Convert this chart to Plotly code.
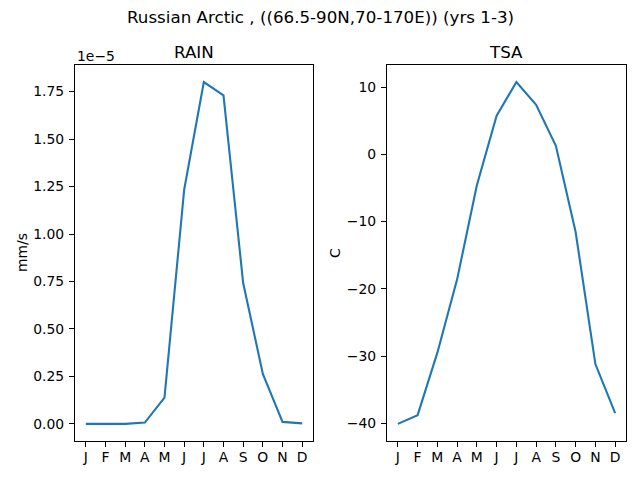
import plotly.graph_objects as go

months = ['J', 'F', 'M', 'A', 'M', 'J', 'J', 'A', 'S', 'O', 'N', 'D']
rain = [0.0, 0.0, 0.0, 0.007e-5, 0.138e-5, 1.233e-5, 1.80e-5, 1.73e-5,
        0.742e-5, 0.263e-5, 0.0105e-5, 0.003e-5]
tsa = [-40.1, -38.8, -29.5, -18.6, -4.6, 5.76, 10.75, 7.36, 1.28, -11.55, -31.2, -38.5]
rain_ticks = [0.0, 0.25, 0.5, 0.75, 1.0, 1.25, 1.5, 1.75]
tsa_ticks = [-40, -30, -20, -10, 0, 10]

scale = 1e-5
rain_scaled = [v / scale for v in rain]
xs = list(range(len(months)))

FONT = 'DejaVu Sans'
BLUE = '#1f77b4'

# the page body adds an 8px offset, so the figure is drawn 8px smaller
OFF = 8
W, H = 640 - OFF, 480 - OFF


def px(x):
    return (x - OFF) / W


def py(y):
    return 1 - (y - OFF) / H


def pad(vals):
    lo, hi = min(vals), max(vals)
    m = (hi - lo) * 0.05
    return [lo - m, hi + m]


fig = go.Figure()
fig.add_trace(go.Scatter(x=xs, y=rain_scaled, mode='lines',
                         line=dict(color=BLUE, width=2.1),
                         xaxis='x', yaxis='y', showlegend=False))
fig.add_trace(go.Scatter(x=xs, y=tsa, mode='lines',
                         line=dict(color=BLUE, width=2.1),
                         xaxis='x2', yaxis='y2', showlegend=False))

axis_common = dict(showline=True, linecolor='black', linewidth=1.1, mirror=True,
                   ticks='outside', ticklen=5, tickwidth=1.1, tickcolor='black',
                   showgrid=False, zeroline=False,
                   tickfont=dict(family=FONT, size=13.9, color='black'))

fig.update_layout(
    width=W, height=H,
    margin=dict(l=0, r=0, t=0, b=0),
    paper_bgcolor='white', plot_bgcolor='white',
    font=dict(family=FONT, color='black'),
    xaxis=dict(domain=[px(75), px(313)], anchor='y',
               tickvals=xs, ticktext=months, range=pad(xs), ticklabelstandoff=-2, **axis_common),
    yaxis=dict(domain=[py(441), py(65)], anchor='x',
               tickvals=rain_ticks, ticktext=['%.2f' % t for t in rain_ticks],
               range=pad(rain_scaled), ticklabelstandoff=2, **axis_common),
    xaxis2=dict(domain=[px(387), px(626)], anchor='y2',
                tickvals=xs, ticktext=months, range=pad(xs), ticklabelstandoff=-2, **axis_common),
    yaxis2=dict(domain=[py(441), py(65)], anchor='x2',
                tickvals=tsa_ticks, ticktext=[str(t).replace('-', '\u2212') for t in tsa_ticks],
                range=pad(tsa), ticklabelstandoff=2, **axis_common),
    annotations=[
        dict(text='Russian Arctic , ((66.5-90N,70-170E)) (yrs 1-3)', x=px(320), y=py(17),
             xref='paper', yref='paper', showarrow=False, xanchor='center', yanchor='middle',
             font=dict(family=FONT, size=16.7)),
        dict(text='RAIN', x=px(194), y=py(52), xref='paper', yref='paper',
             showarrow=False, xanchor='center', yanchor='middle',
             font=dict(family=FONT, size=16.7)),
        dict(text='TSA', x=px(506), y=py(52), xref='paper', yref='paper',
             showarrow=False, xanchor='center', yanchor='middle',
             font=dict(family=FONT, size=16.7)),
        dict(text='1e\u22125', x=px(75), y=py(56), xref='paper', yref='paper',
             showarrow=False, xanchor='left', yanchor='middle',
             font=dict(family=FONT, size=13.9)),
        dict(text='mm/s', x=px(22), y=py(253), xref='paper', yref='paper',
             showarrow=False, xanchor='center', yanchor='middle', textangle=-90,
             font=dict(family=FONT, size=13.9)),
        dict(text='C', x=px(335), y=py(253), xref='paper', yref='paper',
             showarrow=False, xanchor='center', yanchor='middle', textangle=-90,
             font=dict(family=FONT, size=13.9)),
    ],
)

fig.write_html('out.html')
